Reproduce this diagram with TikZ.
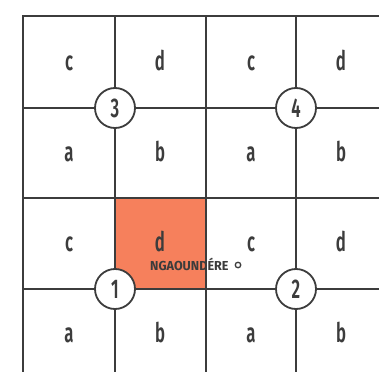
\documentclass[tikz,border=0pt]{standalone}
\usepackage{fontspec}
\setmainfont{Fira Sans}
\newfontfamily\gridfont[FakeStretch=0.62]{Fira Sans SemiBold}
\newfontfamily\labelfont[FakeStretch=0.97]{Fira Sans Bold}
\definecolor{ink}{HTML}{3C3C3C}
\definecolor{cellorange}{HTML}{F6805C}
\begin{document}
\begin{tikzpicture}[x=1pt,y=-1pt,
  letter/.style={anchor=base,inner sep=0pt,text=ink,font=\gridfont\fontsize{27}{27}\selectfont},
  numcircle/.style={circle,draw=ink,line width=1.8pt,fill=white,minimum size=40pt,inner sep=0pt,text=ink,font=\gridfont\fontsize{27}{27}\selectfont},
  inner/.style={draw=ink,line width=1.6pt},
  outer/.style={draw=ink,line width=2.6pt}]
\useasboundingbox (0,0) rectangle (379,371);
\fill[white] (0,0) rectangle (379,371);
% highlighted cell
\fill[cellorange] (115,198) rectangle (206,289);
% inner grid lines
\foreach \x in {115,206,296} \draw[inner] (\x,16) -- (\x,375);
\foreach \y in {108,198,289} \draw[inner] (23,\y) -- (383,\y);
% outer border
\draw[outer] (23,375) -- (23,16) -- (383,16);
% letters
\foreach \row/\base/\la/\lb in {1/71/c/d,2/161.5/a/b,3/251/c/d,4/342/a/b}{
  \node[letter] (l\row a) at (69,\base) {\la};
  \node[letter] (l\row b) at (160,\base) {\lb};
  \node[letter] (l\row c) at (251,\base) {\la};
  \node[letter] (l\row d) at (341,\base) {\lb};
}
% numbered circles
\node[numcircle] (n3) at (115,108) {3};
\node[numcircle] (n4) at (296,108) {4};
\node[numcircle] (n1) at (115,289) {1};
\node[numcircle] (n2) at (296,289) {2};
% town label
\node[anchor=base west,inner sep=0pt,text=ink,font=\labelfont\fontsize{13}{13}\selectfont] (town) at (150,270) {NGAOUNDÉRE};
\node[circle,draw=ink,line width=1.3pt,fill=white,minimum size=5.5pt,inner sep=0pt] (towndot) at (238,265) {};
\end{tikzpicture}
\end{document}
